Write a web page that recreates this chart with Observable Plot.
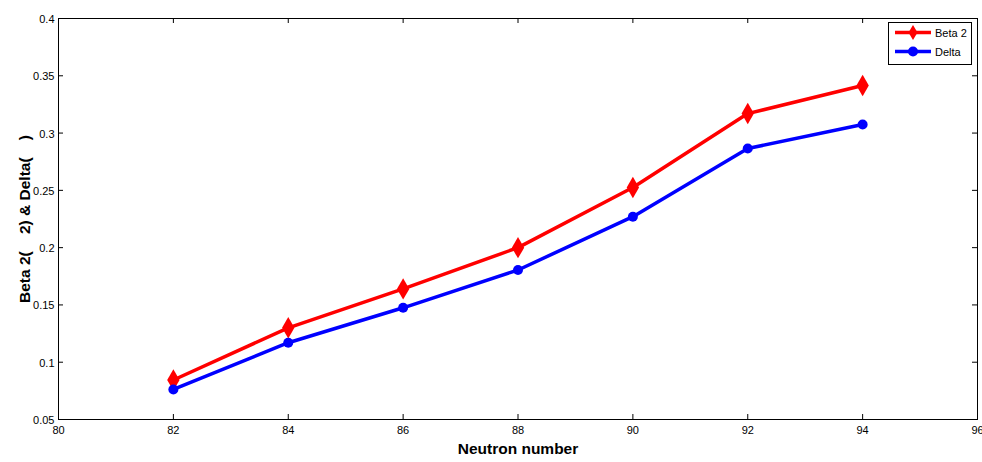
<!DOCTYPE html>
<html><head><meta charset="utf-8">
<script src="https://cdn.jsdelivr.net/npm/d3@7"></script>
<script src="https://cdn.jsdelivr.net/npm/@observablehq/plot@0.6"></script>
<style>
body{margin:0;background:#fff;font-family:"Liberation Sans",Arial,sans-serif;}
#wrap{position:relative;width:982px;height:462px;}
#legend{position:absolute;left:888px;top:22px;width:84px;height:43px;border:1px solid #000;background:#fff;box-sizing:border-box;font-size:11px;}
#legend div{display:flex;align-items:center;height:19px;padding-left:4px;}
#legend span{margin-left:4px;}
</style></head>
<body><div id="wrap"><div id="legend"></div></div>
<script>
const neutron = [82, 84, 86, 88, 90, 92, 94];
const beta2 = [0.0845, 0.130, 0.164, 0.200, 0.2525, 0.317, 0.3415];
const delta = [0.0762, 0.117, 0.1475, 0.1805, 0.227, 0.2865, 0.3075];
const xTicks = [80, 82, 84, 86, 88, 90, 92, 94, 96];
const yTicks = [0.05, 0.1, 0.15, 0.2, 0.25, 0.3, 0.35, 0.4];
const seriesNames = ["Beta 2", "Delta"];
const seriesColors = ["#ff0000", "#0000ff"];
const xLabel = "Neutron number";
const yLabel = "Beta 2(\u00A0\u00A0\u00A0\u00A02)\u00A0&\u00A0Delta(\u00A0\u00A0\u00A0\u00A0)";

const rows = [];
neutron.forEach((n, i) => {
  rows.push({n, v: beta2[i], s: seriesNames[0]});
  rows.push({n, v: delta[i], s: seriesNames[1]});
});
const redRows = rows.filter(d => d.s === seriesNames[0]);
const blueRows = rows.filter(d => d.s === seriesNames[1]);
const font = "Liberation Sans, Arial, sans-serif";

const chart = Plot.plot({
  width: 982, height: 462,
  marginLeft: 58, marginRight: 5, marginTop: 18, marginBottom: 43,
  style: {fontFamily: font, fontSize: "11px", color: "#000", background: "#fff"},
  x: {domain: [80, 96]},
  y: {domain: [0.05, 0.4]},
  marks: [
    Plot.frame({stroke: "#000", strokeWidth: 1}),
    Plot.axisX(xTicks, {tickSize: 0, tickPadding: 7, label: null, tickFormat: d => String(d), fontSize: 11}),
    Plot.axisY(yTicks, {tickSize: 0, tickPadding: 4, dy: 1, label: null, tickFormat: d => String(+d.toFixed(2)), fontSize: 11}),
    Plot.ruleX(xTicks, {x: d => d, y1: 0.05, y2: 0.05, insetTop: -5, stroke: "#000"}),
    Plot.ruleX(xTicks, {x: d => d, y1: 0.4, y2: 0.4, insetBottom: -5, stroke: "#000"}),
    Plot.ruleY(yTicks, {y: d => d, x1: 80, x2: 80, insetRight: -5, stroke: "#000"}),
    Plot.ruleY(yTicks, {y: d => d, x1: 96, x2: 96, insetLeft: -5, stroke: "#000"}),
    Plot.line(redRows, {x: "n", y: "v", stroke: seriesColors[0], strokeWidth: 3.5}),
    Plot.line(blueRows, {x: "n", y: "v", stroke: seriesColors[1], strokeWidth: 3.5}),
    Plot.dot(redRows, {x: "n", y: "v", symbol: "diamond", r: 6.5, fill: seriesColors[0]}),
    Plot.dot(blueRows, {x: "n", y: "v", symbol: "circle", r: 5, fill: seriesColors[1]}),
    Plot.text([xLabel], {text: d => d, frameAnchor: "bottom", textAnchor: "middle", dy: 34, fontSize: 15.5, fontWeight: "bold", fill: "#000"}),
    Plot.text([yLabel], {text: d => d, frameAnchor: "left", textAnchor: "middle", dx: -33, rotate: -90, fontSize: 15.5, fontWeight: "bold", fill: "#000"})
  ]
});
document.getElementById("wrap").prepend(chart);

const leg = document.getElementById("legend");
seriesNames.forEach((name, i) => {
  const row = document.createElement("div");
  const sym = i === 0
    ? `<path d="M20,2 L24.5,9.5 L20,17 L15.5,9.5Z" fill="${seriesColors[i]}"/>`
    : `<circle cx="20" cy="9.5" r="5" fill="${seriesColors[i]}"/>`;
  row.innerHTML = `<svg width="38" height="19"><line x1="2" x2="38" y1="9.5" y2="9.5" stroke="${seriesColors[i]}" stroke-width="3.5"/>${sym}</svg><span>${name}</span>`;
  leg.appendChild(row);
});
</script></body></html>
